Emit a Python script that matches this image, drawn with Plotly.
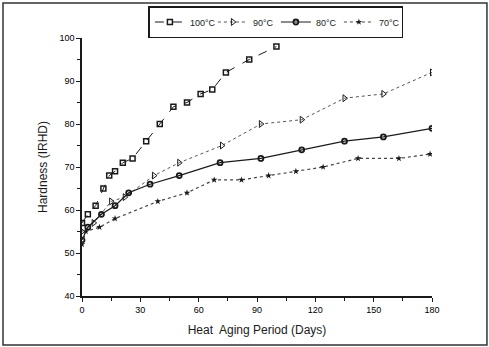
import plotly.graph_objects as go

# Data
days_100 = [0, 3, 7, 11, 14, 17, 21, 26, 33, 40, 47, 54, 61, 67, 74, 86, 100]
hard_100 = [57, 59, 61, 65, 68, 69, 71, 72, 76, 80, 84, 85, 87, 88, 92, 95, 98]

days_90 = [0, 6, 15, 22, 37, 50, 72, 92, 113, 135, 155, 180]
hard_90 = [55, 57, 62, 63, 68, 71, 75, 80, 81, 86, 87, 92]

days_80 = [0, 3, 10, 17, 24, 35, 50, 71, 92, 113, 135, 155, 180]
hard_80 = [53, 56, 59, 61, 64, 66, 68, 71, 72, 74, 76, 77, 79]

days_70 = [0, 2, 9, 17, 39, 54, 68, 82, 96, 110, 124, 142, 163, 179]
hard_70 = [52, 55, 56, 58, 62, 64, 67, 67, 68, 69, 70, 72, 72, 73]

x_ticks = [0, 30, 60, 90, 120, 150, 180]
y_ticks = [40, 50, 60, 70, 80, 90, 100]

ink = "#1a1a1a"
fig = go.Figure()
fig.add_trace(go.Scatter(x=days_100, y=hard_100, name="100°C", mode="lines+markers",
                         line=dict(color=ink, width=1, dash="dash"),
                         marker=dict(symbol="square-open", size=5, color=ink, line=dict(width=1.5))))
fig.add_trace(go.Scatter(x=days_90, y=hard_90, name="90°C", mode="lines+markers",
                         line=dict(color="#555", width=1, dash="dot"),
                         marker=dict(symbol="triangle-right-open", size=6, color=ink, line=dict(width=1))))
fig.add_trace(go.Scatter(x=days_80, y=hard_80, name="80°C", mode="lines+markers",
                         line=dict(color=ink, width=1.2),
                         marker=dict(symbol="circle-open", size=5, color=ink, line=dict(width=1.8))))
fig.add_trace(go.Scatter(x=days_70, y=hard_70, name="70°C", mode="lines+markers",
                         line=dict(color="#444", width=1.2, dash="dot"),
                         marker=dict(symbol="star", size=5, color=ink)))

font = "Liberation Sans, Arial, sans-serif"
axis_common = dict(showgrid=False, zeroline=False, showline=True, linecolor=ink, linewidth=1.5,
                   ticks="outside", ticklen=4, tickwidth=1, tickcolor=ink, automargin=False,
                   tickfont=dict(family=font, size=9, color="#000"), mirror=False)

fig.update_xaxes(range=[0, 180], tickvals=x_ticks, ticktext=[str(v) for v in x_ticks],
                 minor=dict(ticks="outside", ticklen=3, tickcolor=ink, dtick=15, tick0=0),
                 title=dict(text="Heat&nbsp; Aging Period (Days)", standoff=12,
                            font=dict(family=font, size=12, color=ink)),
                 **axis_common)
fig.update_yaxes(range=[40, 100], tickvals=y_ticks, ticktext=[str(v) for v in y_ticks],
                 minor=dict(ticks="outside", ticklen=3, tickcolor=ink, dtick=5, tick0=0),
                 title=dict(text="Hardness (IRHD)", standoff=9,
                            font=dict(family=font, size=12, color=ink)),
                 **axis_common)

fig.update_layout(
    width=489, height=347,
    margin=dict(l=82, r=57, t=38, b=51, autoexpand=False),
    paper_bgcolor="white", plot_bgcolor="white",
    showlegend=True,
    legend=dict(orientation="h", x=0.554, xanchor="center", y=1.0, yanchor="bottom",
                bgcolor="white", bordercolor=ink, borderwidth=1.5,
                font=dict(family=font, size=9, color=ink),
                itemwidth=30, entrywidth=18, tracegroupgap=0,
                ),
    shapes=[dict(type="rect", xref="paper", yref="paper",
                 x0=-0.2257, x1=1.157, y0=-0.19, y1=1.1357,
                 line=dict(color="#333", width=1.5), fillcolor="rgba(0,0,0,0)")],
)

fig.write_html("out.html", config={"displayModeBar": False},
               post_script="document.body.style.margin='0';document.body.style.padding='0';")
